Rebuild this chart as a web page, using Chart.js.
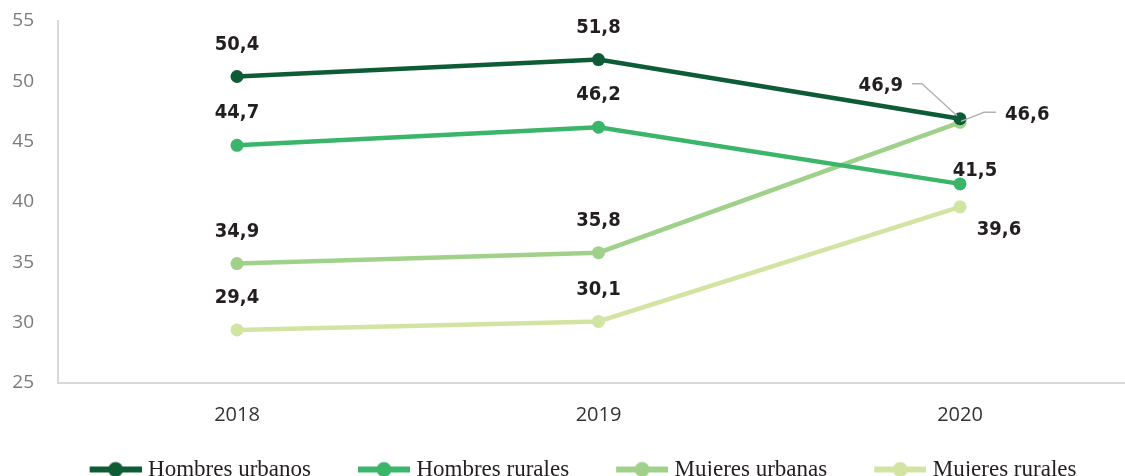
<!DOCTYPE html>
<html>
<head>
<meta charset="utf-8">
<script src="https://cdn.jsdelivr.net/npm/chart.js@4"></script>
<style>
  html, body { margin: 0; padding: 0; background: #ffffff; overflow: hidden; width: 1125px; height: 476px; }
  #wrap { position: relative; width: 1129px; height: 491px; }
</style>
</head>
<body>
<div id="wrap"><canvas id="c"></canvas></div>
<script>
const years = [2018, 2019, 2020];
const seriesNames = ['Hombres urbanos', 'Hombres rurales', 'Mujeres urbanas', 'Mujeres rurales'];
const hombresUrbanos = [50.4, 51.8, 46.9];
const hombresRurales = [44.7, 46.2, 41.5];
const mujeresUrbanas = [34.9, 35.8, 46.6];
const mujeresRurales = [29.4, 30.1, 39.6];
const yTicks = [25, 30, 35, 40, 45, 50, 55];

const colors = ['#0d5c36', '#3bb56a', '#a0d18b', '#d1e4a1'];
const allValues = [hombresUrbanos, hombresRurales, mujeresUrbanas, mujeresRurales];

const GAP = 42;
function legendImage(color) {
  const cv = document.createElement('canvas');
  cv.width = 52 + GAP; cv.height = 18;
  const g = cv.getContext('2d');
  g.strokeStyle = color; g.lineWidth = 6;
  g.beginPath(); g.moveTo(GAP, 9); g.lineTo(GAP + 52, 9); g.stroke();
  g.fillStyle = color;
  g.beginPath(); g.arc(GAP + 26, 9, 7.5, 0, Math.PI * 2); g.fill();
  return cv;
}
const legendImgs = colors.map(legendImage);

const fmt = v => v.toFixed(1).replace('.', ',');

const labelPlacement = {
  '0-2': { dx: -57, dy: -33, align: 'right', leader: [[-48, -35], [-38, -35], [-3, -3]] },
  '2-2': { dx: 45, dy: -8, align: 'left', leader: [[1, -1], [24, -10], [36, -10]] },
  '1-2': { dx: 15, dy: -13, align: 'center' },
  '3-2': { dx: 39, dy: 23, align: 'center' }
};

const valueLabels = {
  id: 'valueLabels',
  afterDatasetsDraw(chart) {
    const ctx = chart.ctx;
    ctx.save();
    ctx.font = 'bold 20px "DejaVu Sans Condensed", "DejaVu Sans", sans-serif';
    ctx.fillStyle = '#231f20';
    ctx.textBaseline = 'middle';
    chart.data.datasets.forEach((ds, di) => {
      const meta = chart.getDatasetMeta(di);
      meta.data.forEach((pt, i) => {
        const key = di + '-' + i;
        const p = labelPlacement[key] || { dx: 0, dy: -32, align: 'center' };
        if (p.leader) {
          ctx.save();
          ctx.strokeStyle = '#b3b3b3';
          ctx.lineWidth = 1.5;
          ctx.beginPath();
          p.leader.forEach((q, k) => {
            const fn = k === 0 ? 'moveTo' : 'lineTo';
            ctx[fn](pt.x + q[0], pt.y + q[1]);
          });
          ctx.stroke();
          ctx.restore();
        }
        ctx.textAlign = p.align;
        ctx.fillText(fmt(allValues[di][i]), pt.x + p.dx, pt.y + p.dy);
      });
    });
    ctx.restore();
  }
};

const datasets = seriesNames.map((name, k) => ({
  label: name,
  data: years.map((yr, i) => ({ x: yr, y: allValues[k][i] })),
  borderColor: colors[k],
  backgroundColor: colors[k],
  pointBackgroundColor: colors[k],
  pointBorderWidth: 0,
  pointRadius: 6.5,
  borderWidth: 4.5,
  tension: 0,
  clip: false
}));

new Chart(document.getElementById('c'), {
  type: 'line',
  data: { datasets },
  plugins: [valueLabels],
  options: {
    responsive: true,
    maintainAspectRatio: false,
    animation: false,
    layout: { autoPadding: false, padding: { top: 21, left: 0, right: 0, bottom: 0 } },
    plugins: {
      tooltip: { enabled: false },
      legend: {
        position: 'bottom',
        labels: {
          usePointStyle: true,
          pointStyleWidth: 42 + GAP,
          padding: 10,
          color: '#231f20',
          font: { family: '"Liberation Serif", serif', size: 23 },
          generateLabels(chart) {
            const items = Chart.defaults.plugins.legend.labels.generateLabels(chart);
            items.forEach((it, idx) => { it.pointStyle = legendImgs[idx]; });
            return items;
          }
        }
      }
    },
    scales: {
      x: {
        type: 'linear',
        min: 2017.5048,
        max: 2020.4675,
        afterBuildTicks(scale) { scale.ticks = years.map(v => ({ value: v })); },
        afterFit(scale) { scale.height = 65; scale.paddingLeft = 0; scale.paddingRight = 0; },
        grid: { display: false, drawTicks: false },
        border: { display: true, color: '#d9d9d9', width: 2 },
        ticks: {
          padding: 20,
          color: '#333333',
          font: { family: '"Open Sans", sans-serif', size: 20 },
          callback: v => String(v)
        }
      },
      y: {
        min: 25,
        max: 55,
        afterBuildTicks(scale) { scale.ticks = yTicks.map(v => ({ value: v })); },
        afterFit(scale) { scale.width = 58; scale.paddingTop = 0; scale.paddingBottom = 0; },
        grid: { display: false, drawTicks: false },
        border: { display: true, color: '#d9d9d9', width: 2 },
        ticks: {
          padding: 24,
          color: '#7a7a7a',
          font: { family: '"Open Sans", sans-serif', size: 19 }
        }
      }
    }
  }
});
</script>
</body>
</html>
